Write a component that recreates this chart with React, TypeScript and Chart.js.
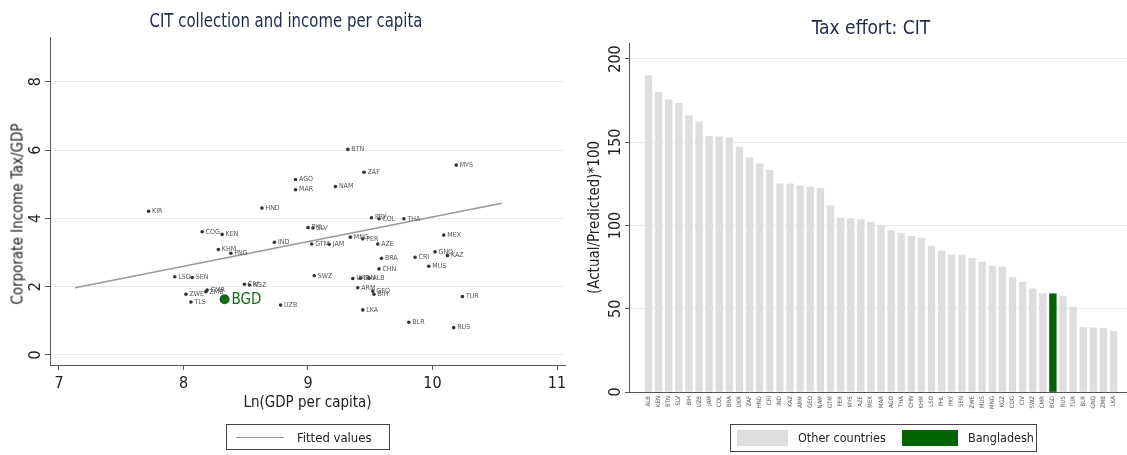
import React, { useEffect, useRef } from "react";
import { Chart, registerables } from "chart.js";

Chart.register(...registerables);

const FONT = "'Liberation Sans Narrow', 'DejaVu Sans Condensed', 'Liberation Sans', Arial, sans-serif";
const INK = "#222222";
const AXIS = "#555555";
const GRID = "#e3ebee";

// ---- Scatter: CIT collection vs. income ----
const scatterCodes = [
  "BTN", "ZAF", "MYS", "AGO", "MAR", "NAM", "KIR", "HND", "COG", "KEN",
  "PHL", "SLV", "PRY", "COL", "THA", "IND", "GTM", "JAM", "MNG", "PER",
  "AZE", "MEX", "KHM", "PNG", "GNQ", "KAZ", "CRI", "BRA", "MUS", "CHN",
  "LSO", "SEN", "SWZ", "UKR", "IDN", "ALB", "ARM", "GEO", "BIH", "TUR",
  "UZB", "LKA", "BLR", "RUS", "CIV", "KGZ", "CMR", "ZMB", "ZWE", "TLS",
];
const lnGdpPerCapita = [
  9.32, 9.45, 10.19, 8.9, 8.9, 9.22, 7.72, 8.63, 8.15, 8.31,
  9.0, 9.04, 9.51, 9.57, 9.77, 8.73, 9.03, 9.17, 9.34, 9.44,
  9.56, 10.09, 8.28, 8.38, 10.02, 10.12, 9.86, 9.59, 9.97, 9.57,
  7.93, 8.07, 9.05, 9.36, 9.42, 9.49, 9.4, 9.52, 9.53, 10.24,
  8.78, 9.44, 9.81, 10.17, 8.49, 8.53, 8.19, 8.18, 8.02, 8.06,
];
const citToGdp = [
  6.02, 5.35, 5.56, 5.14, 4.84, 4.93, 4.21, 4.3, 3.61, 3.53,
  3.73, 3.72, 4.02, 3.99, 3.99, 3.3, 3.25, 3.24, 3.45, 3.4,
  3.25, 3.51, 3.09, 2.98, 3.02, 2.91, 2.86, 2.83, 2.6, 2.52,
  2.29, 2.27, 2.32, 2.24, 2.25, 2.25, 1.97, 1.87, 1.78, 1.71,
  1.46, 1.32, 0.96, 0.8, 2.07, 2.05, 1.9, 1.85, 1.78, 1.55,
];
const highlightCode = "BGD";
const highlightLnGdp = 8.33;
const highlightCit = 1.63;

// Linear fit endpoints
const fittedX = [7.13, 10.556];
const fittedY = [1.97, 4.44];

const scatterXTicks = [7, 8, 9, 10, 11];
const scatterYTicks = [0, 2, 4, 6, 8];

// ---- Bars: tax effort ----
const effortCodes = [
  "ALB", "KEN", "BTN", "SLV", "BIH", "UZB", "JAM", "COL", "BRA", "UKR",
  "ZAF", "HND", "CRI", "IND", "KAZ", "ARM", "GEO", "NAM", "GTM", "PER",
  "MYS", "AZE", "MEX", "MAR", "AGO", "THA", "CHN", "KHM", "LSO", "PHL",
  "PRY", "SEN", "ZWE", "MUS", "MNG", "KGZ", "COG", "CIV", "SWZ", "CMR",
  "BGD", "RUS", "TUR", "BLR", "GNQ", "ZMB", "LKA",
];
const effortValues = [
  190, 180, 175.5, 173.4, 166, 162.3, 153.6, 153.2, 152.6, 147.1,
  140.6, 137, 133.1, 125, 125, 123.8, 123.2, 122.3, 112, 104.5,
  104.3, 103.5, 102, 100.3, 96.8, 95.5, 93.5, 92.5, 87.5, 84.8,
  82.3, 82.2, 80.3, 78, 75.5, 75.2, 68.7, 65.8, 61.9, 59.2,
  59, 57.6, 51, 38.7, 38.6, 38.2, 36.5,
];
const effortYTicks = [0, 50, 100, 150, 200];

const labelPlugin = {
  id: "countryLabels",
  afterDatasetsDraw(chart: any) {
    const cfg = chart.options.plugins.countryLabels || {};
    const ctx = chart.ctx;
    (cfg.sets || []).forEach((s: any) => {
      const meta = chart.getDatasetMeta(s.dataset);
      ctx.save();
      ctx.font = s.font;
      ctx.fillStyle = s.color;
      ctx.textAlign = "left";
      ctx.textBaseline = "middle";
      meta.data.forEach((el: any, j: number) => {
        ctx.fillText(s.labels[j], el.x + s.offset, el.y + (s.dy || 0));
      });
      ctx.restore();
    });
  },
};

function ScatterPanel() {
  const ref = useRef<HTMLCanvasElement | null>(null);
  useEffect(() => {
    if (!ref.current) return;
    const points = lnGdpPerCapita.map((x, i) => ({ x, y: citToGdp[i] }));
    const chart = new Chart(ref.current, {
      type: "scatter",
      data: {
        datasets: [
          {
            type: "line",
            label: "Fitted values",
            data: fittedX.map((x, i) => ({ x, y: fittedY[i] })),
            borderColor: "#999999",
            borderWidth: 1.6,
            pointRadius: 0,
            showLine: true,
            fill: false,
          } as any,
          {
            label: "Countries",
            data: points,
            pointRadius: 1.8,
            backgroundColor: "#333333",
            borderWidth: 0,
          },
          {
            label: highlightCode,
            data: [{ x: highlightLnGdp, y: highlightCit }],
            pointRadius: 5,
            backgroundColor: "#17681a",
            borderWidth: 0,
          },
        ],
      },
      options: {
        responsive: false,
        animation: false,
        layout: { padding: { left: 0, right: 10, top: 37, bottom: 0 } },
        plugins: {
          legend: { display: false },
          tooltip: { enabled: false },
          countryLabels: {
            sets: [
              { dataset: 1, labels: scatterCodes, font: `7px ${FONT}`, color: "#555555", offset: 3.5 },
              { dataset: 2, labels: [highlightCode], font: `15px ${FONT}`, color: "#17681a", offset: 7, dy: 1 },
            ],
          },
        } as any,
        scales: {
          x: {
            type: "linear",
            min: 6.928,
            max: 11.064,
            afterBuildTicks: (s: any) => {
              s.ticks = scatterXTicks.map((v) => ({ value: v }));
            },
            afterFit: (s: any) => {
              s.height = 90;
            },
            grid: { drawOnChartArea: false, drawTicks: true, tickLength: 5, tickColor: AXIS },
            border: { display: true, color: AXIS, width: 1 },
            ticks: { color: INK, font: { family: FONT, size: 16 }, padding: 4 },
            title: {
              display: true,
              text: "Ln(GDP per capita)",
              color: INK,
              font: { family: FONT, size: 15 },
              padding: { top: 0, bottom: 43 },
            },
          },
          y: {
            type: "linear",
            min: -0.293,
            max: 9.31,
            afterBuildTicks: (s: any) => {
              s.ticks = scatterYTicks.map((v) => ({ value: v }));
            },
            afterFit: (s: any) => {
              s.width = 50;
            },
            grid: { color: GRID, drawTicks: true, tickLength: 5, tickColor: AXIS },
            border: { display: true, color: AXIS, width: 1 },
            ticks: {
              color: INK,
              font: { family: FONT, size: 16 },
              minRotation: 90,
              maxRotation: 90,
              crossAlign: "center",
              padding: 5,
            },
          },
        },
      },
      plugins: [labelPlugin],
    });
    return () => chart.destroy();
  }, []);
  return <canvas ref={ref} width={575} height={455} style={{ position: "absolute", left: 0, top: 0 }} />;
}

function EffortPanel() {
  const ref = useRef<HTMLCanvasElement | null>(null);
  useEffect(() => {
    if (!ref.current) return;
    const chart = new Chart(ref.current, {
      type: "bar",
      data: {
        datasets: [
          {
            label: "Tax effort",
            data: effortValues.map((v, i) => ({ x: i, y: v })),
            backgroundColor: effortCodes.map((c) => (c === highlightCode ? "#006400" : "#dedede")),
            borderWidth: 0,
            barThickness: 6.7,
          } as any,
        ],
      },
      options: {
        responsive: false,
        animation: false,
        layout: { padding: { left: 0, right: 0, top: 43, bottom: 0 } },
        plugins: { legend: { display: false }, tooltip: { enabled: false } },
        scales: {
          x: {
            type: "linear",
            offset: false,
            min: -1.93,
            max: 47.33,
            afterBuildTicks: (s: any) => {
              s.ticks = effortCodes.map((_, i) => ({ value: i }));
            },
            afterFit: (s: any) => {
              s.height = 63;
            },
            grid: { display: false, drawTicks: false, tickLength: 0 },
            border: { display: true, color: AXIS, width: 1 },
            ticks: {
              autoSkip: false,
              minRotation: 90,
              maxRotation: 90,
              color: "#555555",
              font: { family: FONT, size: 6 },
              padding: 4,
              callback: (v: any) => effortCodes[Math.round(Number(v))] ?? "",
            },
          },
          y: {
            type: "linear",
            min: 0,
            max: 209.6,
            afterBuildTicks: (s: any) => {
              s.ticks = effortYTicks.map((v) => ({ value: v }));
            },
            afterFit: (s: any) => {
              s.width = 54;
            },
            grid: { color: GRID, drawTicks: true, tickLength: 4, tickColor: AXIS },
            border: { display: true, color: AXIS, width: 1 },
            ticks: {
              color: INK,
              font: { family: FONT, size: 16 },
              minRotation: 90,
              maxRotation: 90,
              crossAlign: "center",
              padding: -5,
            },
            title: {
              display: true,
              text: "(Actual/Predicted)*100",
              color: INK,
              font: { family: FONT, size: 15 },
              padding: { top: 11, bottom: 0 },
            },
          },
        },
      },
    });
    return () => chart.destroy();
  }, []);
  return <canvas ref={ref} width={552} height={455} style={{ position: "absolute", left: 575, top: 0 }} />;
}

const textBase: React.CSSProperties = {
  position: "absolute",
  fontFamily: FONT,
  whiteSpace: "nowrap",
  lineHeight: 1,
};

export default function App() {
  return (
    <div style={{ position: "fixed", left: 0, top: 0, width: 1127, height: 455, background: "#ffffff", overflow: "hidden" }}>
      <ScatterPanel />
      <EffortPanel />
      <div
        style={{
          ...textBase, left: 0, width: 572, top: 10, textAlign: "center", fontSize: 20, color: "#1e2a48",
          transform: "scaleX(0.83)", transformOrigin: "286px 0",
        }}
      >
        CIT collection and income per capita
      </div>
      <div
        style={{
          ...textBase, left: 600, width: 542, top: 17, textAlign: "center", fontSize: 20, color: "#1e2a48",
          transform: "scaleX(0.95)", transformOrigin: "271px 0",
        }}
      >
        Tax effort: CIT
      </div>
      <div
        style={{
          ...textBase, left: 18, top: 214, fontSize: 15, color: INK,
          transform: "translate(-50%, -50%) rotate(-90deg)",
        }}
      >
        Corporate Income Tax/GDP
      </div>
      <div style={{ position: "absolute", left: 226, top: 424, width: 164, height: 26, border: "1px solid #444", boxSizing: "border-box" }}>
        <div style={{ position: "absolute", left: 9, top: 12, width: 48, height: 0, borderTop: "1.5px solid #9d9d9d" }} />
        <div style={{ ...textBase, left: 70, top: 6, fontSize: 13, color: INK }}>Fitted values</div>
      </div>
      <div style={{ position: "absolute", left: 730, top: 424, width: 307, height: 28, border: "1px solid #444", boxSizing: "border-box" }}>
        <div style={{ position: "absolute", left: 6, top: 5, width: 51, height: 16, background: "#dedede" }} />
        <div style={{ ...textBase, left: 67, top: 7, fontSize: 12.5, color: INK }}>Other countries</div>
        <div style={{ position: "absolute", left: 171, top: 5, width: 56, height: 16, background: "#006400" }} />
        <div style={{ ...textBase, left: 237, top: 7, fontSize: 12.5, color: INK }}>Bangladesh</div>
      </div>
    </div>
  );
}
